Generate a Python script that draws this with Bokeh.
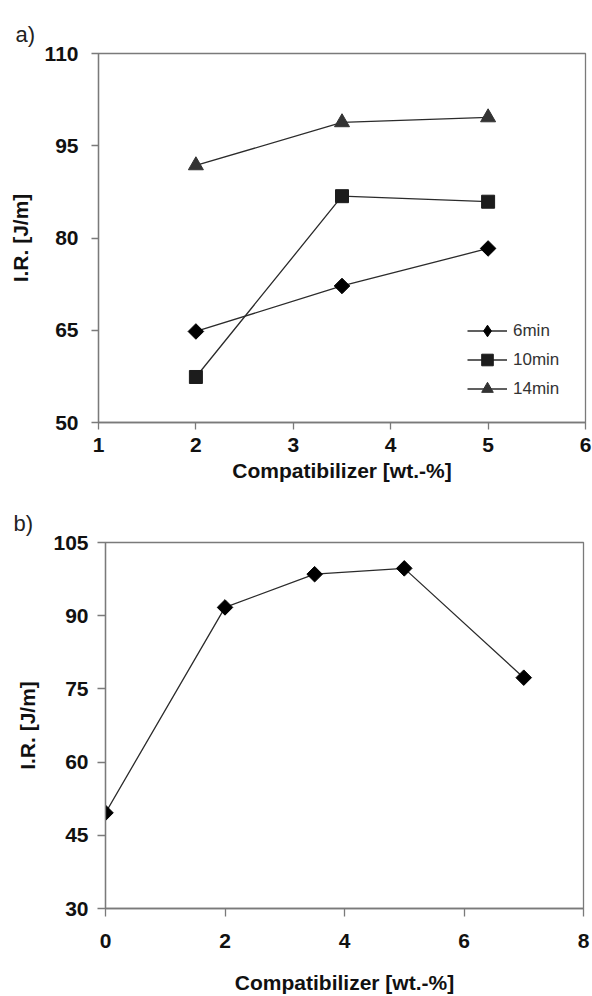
import numpy as np
from bokeh.plotting import figure
from bokeh.models import Range1d, FixedTicker, Legend, LegendItem
from bokeh.embed import file_html
from bokeh.resources import INLINE

# ---------------- data ----------------
# panel a
x_a = [2, 3.5, 5]
ir_6min = [64.8, 72.2, 78.3]
ir_10min = [57.4, 86.8, 85.9]
ir_14min = [91.8, 98.8, 99.6]
series_labels = ["6min", "10min", "14min"]
xticks_a = [1, 2, 3, 4, 5, 6]
yticks_a = [50, 65, 80, 95, 110]

# panel b
x_b = [0, 2, 3.5, 5, 7]
ir_b = [49.6, 91.7, 98.5, 99.7, 77.3]
xticks_b = [0, 2, 4, 6, 8]
yticks_b = [30, 45, 60, 75, 90, 105]

x_title = "Compatibilizer [wt.-%]"
y_title = "I.R. [J/m]"

FONT = "Liberation Sans"
AX_COL = "#7a7a7a"
LINE_COL = "#2b2b2b"


def style(p, xticks, yticks, tick_out, y_std, y_lab_std, x_std, x_lab_std):
    p.xaxis.ticker = FixedTicker(ticks=xticks)
    p.yaxis.ticker = FixedTicker(ticks=yticks)
    for ax in (p.xaxis, p.yaxis):
        ax.axis_line_color = AX_COL
        ax.axis_line_width = 1.3
        ax.major_tick_line_color = AX_COL
        ax.major_tick_line_width = 1.3
        ax.major_tick_out = tick_out
        ax.major_tick_in = 0
        ax.minor_tick_line_color = None
        ax.major_label_text_font = FONT
        ax.major_label_text_font_style = "bold"
        ax.major_label_text_font_size = "21px"
        ax.major_label_text_color = "#111111"
        ax.axis_label_text_font = FONT
        ax.axis_label_text_font_style = "bold"
        ax.axis_label_text_font_size = "21px"
        ax.axis_label_text_color = "#111111"
    p.yaxis.major_label_standoff = y_std
    p.yaxis.axis_label_standoff = y_lab_std
    p.xaxis.major_label_standoff = x_std
    p.xaxis.axis_label_standoff = x_lab_std
    p.xaxis.axis_label = x_title
    p.yaxis.axis_label = y_title
    p.xgrid.grid_line_color = None
    p.ygrid.grid_line_color = None
    p.outline_line_color = AX_COL
    p.outline_line_width = 1.3
    p.background_fill_color = "white"
    p.border_fill_color = "white"
    p.title.text_font = FONT
    p.title.text_font_style = "normal"
    p.title.text_font_size = "22px"
    p.title.text_color = "#222222"
    p.title.align = "left"
    p.title.vertical_align = "top"
    p.title.standoff = 10


# ---------------- panel a ----------------
pa = figure(width=592, height=490, output_backend="svg", toolbar_location=None,
            x_range=Range1d(1, 6), y_range=Range1d(50, 110), title="a)",
            min_border_left=98, min_border_right=7, min_border_top=53,
            min_border_bottom=68)
style(pa, xticks_a, yticks_a, 7, 13, 10, 8, 4)
pa.title.offset = -83

series = [ir_6min, ir_10min, ir_14min]
markers = ["square", "square", "triangle"]
legend_markers = ["diamond", "square", "triangle"]
angles = [np.pi / 4, 0, 0]
sizes = [11, 13, 15]
fills = ["#000000", "#1c1c1c", "#333333"]
items = []
for ys, mk, lmk, ang, sz, fc, lab in zip(series, markers, legend_markers, angles,
                                          sizes, fills, series_labels):
    lr = pa.line(x_a, ys, line_color=LINE_COL, line_width=1.3)
    sr = pa.scatter(x_a, ys, marker=mk, angle=ang, size=sz, fill_color=fc,
                    line_color=fc, line_width=1)
    # hidden twin used only for the legend key (un-rotated marker shape)
    key = pa.scatter(x_a, ys, marker=lmk, size=sz, fill_color=fc,
                     line_color=fc, line_width=1, visible=False)
    items.append(LegendItem(label=lab, renderers=[lr, key]))

legend = Legend(items=items, location=(369, 19), orientation="vertical",
                border_line_color=None, background_fill_alpha=0,
                padding=0, margin=0, spacing=0, click_policy="none",
                glyph_width=40, glyph_height=29, label_height=29,
                label_standoff=6, label_text_font=FONT,
                label_text_font_size="17px", label_text_color="#333333")
pa.add_layout(legend, "center")

# ---------------- panel b ----------------
pb = figure(width=592, height=506, output_backend="svg", toolbar_location=None,
            x_range=Range1d(0, 8), y_range=Range1d(30, 105), title="b)",
            min_border_left=105, min_border_right=9, min_border_top=52,
            min_border_bottom=88)
style(pb, xticks_b, yticks_b, 8, 9, 11, 17, 20)
pb.title.offset = -92

pb.line(x_b, ir_b, line_color=LINE_COL, line_width=1.3)
pb.scatter(x_b, ir_b, marker="square", angle=np.pi / 4, size=11,
           fill_color="#000000", line_color="#000000", line_width=1)

open("out.html", "w").write(file_html([pa, pb], INLINE))
